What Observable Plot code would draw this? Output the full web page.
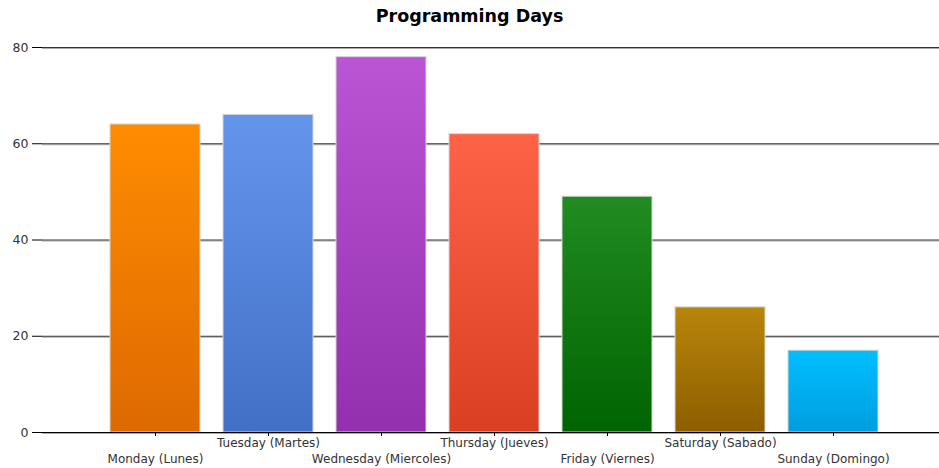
<!DOCTYPE html>
<html>
<head>
<meta charset="utf-8">
<script src="https://cdn.jsdelivr.net/npm/d3@7"></script>
<script src="https://cdn.jsdelivr.net/npm/@observablehq/plot@0.6"></script>
<style>
  html, body { margin: 0; padding: 0; background: #fff; }
  #title { width: 939px; height: 30px; box-sizing: border-box; padding-top: 6px; line-height: 20px; text-align: center;
           font: bold 17.5px "DejaVu Sans", sans-serif; color: #000; }
  #chart svg { display: block; }
</style>
</head>
<body>
<div id="title">Programming Days</div>
<div id="chart"></div>
<script>
const days = ["Monday (Lunes)", "Tuesday (Martes)", "Wednesday (Miercoles)", "Thursday (Jueves)", "Friday (Viernes)", "Saturday (Sabado)", "Sunday (Domingo)"];
const values = [64, 66, 78, 62, 49, 26, 17];
const topColors = ["#ff8c00", "#6495ed", "#ba55d3", "#ff6347", "#228b22", "#b8860b", "#00bfff"];
const bottomColors = ["#dd6a00", "#4270c6", "#9330ad", "#db3f22", "#006400", "#8d5e00", "#009ede"];
const yTicks = [0, 20, 40, 60, 80];

const data = days.map((d, i) => ({day: d, value: values[i], idx: i}));

const defs = () => {
  const g = d3.create("svg:defs");
  topColors.forEach((c, i) => {
    const lg = g.append("linearGradient").attr("id", "g" + i)
      .attr("x1", 0).attr("y1", 0).attr("x2", 0).attr("y2", 1);
    lg.append("stop").attr("offset", "0%").attr("stop-color", c);
    lg.append("stop").attr("offset", "100%").attr("stop-color", bottomColors[i]);
  });
  return g.node();
};

const chart = Plot.plot({
  width: 939,
  height: 438,
  marginTop: 17,
  marginBottom: 36,
  marginLeft: 42,
  marginRight: 0,
  style: {fontFamily: "DejaVu Sans, sans-serif", fontSize: "12px", color: "#333", background: "#fff"},
  x: {type: "band", domain: days, range: [42, 946], paddingInner: 0.2, paddingOuter: 0.6, label: null},
  y: {domain: [0, 80], label: null},
  marks: [
    defs,
    Plot.gridY(yTicks, {stroke: "#aaa", strokeOpacity: 1, dy: 1}),
    Plot.gridY(yTicks, {stroke: "#333", strokeOpacity: 1}),
    Plot.barY(data, {x: "day", y: "value", fill: d => `url(#g${d.idx})`, stroke: "#d6d6d6", strokeWidth: 1}),
    Plot.ruleY([0], {stroke: "#000"}),
    Plot.ruleX([0], {x: () => 42, stroke: "#000", y1: 0, y2: 80}),
    Plot.axisY(yTicks, {tickSize: 10, tickPadding: 4, stroke: "#000", fontSize: 12.5, fill: "#333", label: null}),
    Plot.axisX(days.filter((d, i) => i % 2 === 1), {tickSize: 4, tickPadding: 2, stroke: "#000", fill: "#333", label: null}),
    Plot.axisX(days.filter((d, i) => i % 2 === 0), {tickSize: 4, tickPadding: 18, stroke: "#000", fill: "#333", label: null})
  ]
});
document.getElementById("chart").appendChild(chart);
</script>
</body>
</html>
